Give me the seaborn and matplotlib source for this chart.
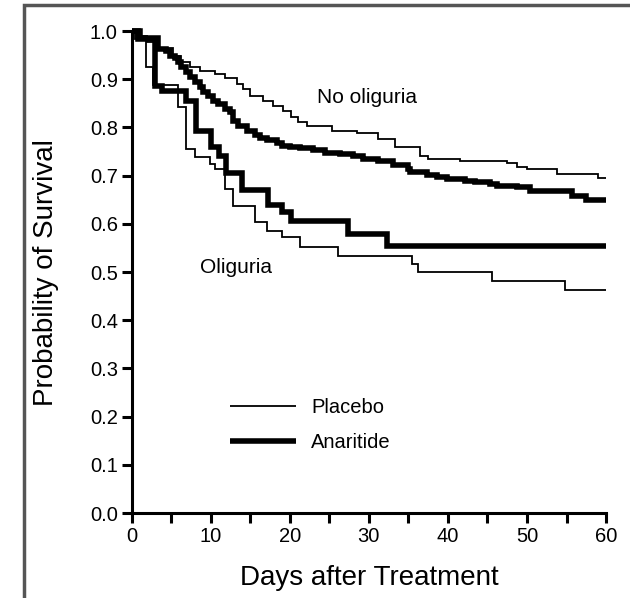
import matplotlib
matplotlib.use('Agg')
import matplotlib.pyplot as plt
from matplotlib.patches import Rectangle
import seaborn as sns
import pandas as pd

# Kaplan-Meier step data (day of drop, survival after drop)
noolig_placebo_days = [0, 0.8, 2.0, 3.3, 5.2, 6.2, 7.4, 8.6, 10.5, 11.8, 13.3, 14.1, 15.0, 16.6, 17.9, 19.2,
                       20.1, 21.1, 22.2, 25.3, 28.5, 31.2, 33.3, 36.5, 37.5, 41.5, 47.5, 48.7, 50.0, 53.8, 59.0, 60]
noolig_placebo_surv = [1.0, 0.99, 0.978, 0.965, 0.948, 0.936, 0.925, 0.918, 0.911, 0.903, 0.890, 0.880, 0.866, 0.856, 0.845, 0.834,
                       0.822, 0.811, 0.803, 0.793, 0.788, 0.776, 0.759, 0.741, 0.734, 0.730, 0.727, 0.718, 0.713, 0.703, 0.695, 0.695]

noolig_anar_days = [0, 1.0, 3.3, 4.3, 4.8, 5.5, 5.9, 6.3, 6.9, 7.4, 8.0, 8.6, 9.0, 9.6, 10.3, 10.9, 11.8, 12.4, 12.8, 13.4,
                    14.6, 15.6, 16.2, 17.1, 18.4, 19.0, 20.0, 21.3, 22.9, 24.4, 26.3, 28.0, 29.2, 31.1, 33.0, 35.0, 35.2,
                    37.3, 38.6, 39.9, 42.1, 43.4, 45.3, 46.2, 48.7, 50.4, 55.7, 57.5, 60]
noolig_anar_surv = [1.0, 0.985, 0.963, 0.958, 0.948, 0.944, 0.936, 0.925, 0.915, 0.905, 0.894, 0.884, 0.873, 0.865, 0.855, 0.849, 0.838, 0.832, 0.813, 0.803,
                    0.792, 0.784, 0.778, 0.774, 0.768, 0.762, 0.760, 0.757, 0.753, 0.748, 0.745, 0.741, 0.735, 0.730, 0.722, 0.714, 0.707,
                    0.701, 0.697, 0.693, 0.689, 0.687, 0.683, 0.678, 0.676, 0.668, 0.658, 0.650, 0.650]

olig_placebo_days = [0, 0.4, 1.8, 2.7, 5.9, 6.9, 8.0, 9.9, 10.5, 11.8, 12.8, 15.6, 17.1, 19.0, 21.3, 26.1, 35.4, 36.2, 45.6, 54.8, 60]
olig_placebo_surv = [1.0, 0.983, 0.925, 0.888, 0.842, 0.755, 0.738, 0.724, 0.714, 0.672, 0.637, 0.604, 0.585, 0.573, 0.552, 0.533, 0.517, 0.500, 0.481, 0.463, 0.463]

olig_anar_days = [0, 0.8, 3.0, 3.8, 6.9, 8.1, 10.0, 11.0, 11.9, 13.9, 17.2, 19.0, 20.2, 27.4, 32.3, 60]
olig_anar_surv = [1.0, 0.983, 0.886, 0.876, 0.855, 0.793, 0.760, 0.740, 0.705, 0.670, 0.640, 0.624, 0.605, 0.580, 0.555, 0.555]

curves = [
    ('No oliguria', 'Placebo', noolig_placebo_days, noolig_placebo_surv),
    ('No oliguria', 'Anaritide', noolig_anar_days, noolig_anar_surv),
    ('Oliguria', 'Placebo', olig_placebo_days, olig_placebo_surv),
    ('Oliguria', 'Anaritide', olig_anar_days, olig_anar_surv),
]
widths = {'Placebo': 1.3, 'Anaritide': 4.0}

sns.set_style('ticks')
plt.rcParams['font.family'] = ['Liberation Sans', 'DejaVu Sans']
plt.rcParams['text.color'] = 'black'
plt.rcParams['axes.labelcolor'] = 'black'
plt.rcParams['xtick.color'] = 'black'
plt.rcParams['ytick.color'] = 'black'

fig = plt.figure(figsize=(6.3, 5.98), dpi=100)
ax = fig.add_axes([0.209, 0.142, 0.753, 0.806])

seen = set()
for group, arm, days, surv in curves:
    df = pd.DataFrame({'day': days, 'surv': surv})
    lab = arm if arm not in seen else None
    seen.add(arm)
    sns.lineplot(data=df, x='day', y='surv', ax=ax, color='black', lw=widths[arm],
                 drawstyle='steps-post', estimator=None, label=lab, clip_on=False,
                 solid_joinstyle='miter', solid_capstyle='butt')

ax.set_xlim(0, 60)
ax.set_ylim(0, 1.0)
ax.set_xticks(range(0, 61, 10))
ax.set_xticks(range(5, 60, 10), minor=True)
ax.set_yticks([i / 10 for i in range(11)])
ax.set_yticklabels(['%.1f' % (i / 10) for i in range(11)])
ax.tick_params(axis='both', which='both', direction='out', length=7, width=2.2,
               labelsize=14.5, color='black', labelcolor='black', pad=3)
sns.despine(ax=ax)
for sp in ['left', 'bottom']:
    ax.spines[sp].set_linewidth(2.2)
    ax.spines[sp].set_color('black')

ax.set_xlabel('Days after Treatment', fontsize=20, labelpad=14)
ax.set_ylabel('Probability of Survival', fontsize=20, labelpad=22)

ax.text(23.5, 0.863, 'No oliguria', fontsize=15, ha='left', va='center')
ax.text(8.6, 0.51, 'Oliguria', fontsize=15, ha='left', va='center')

leg = ax.legend(loc='upper left', bbox_to_anchor=(0.207, 0.238), frameon=False, fontsize=14.5,
                handlelength=3.3, handletextpad=0.75, labelspacing=0.8, borderpad=0, borderaxespad=0)
for t in leg.get_texts():
    t.set_color('black')

# grey frame around the panel (left and top edges visible)
fig.add_artist(Rectangle((0.038, -0.1), 1.2, 1.0916, transform=fig.transFigure,
                         fill=False, edgecolor='#555555', lw=2.5))

fig.savefig('out.png', dpi=100)
